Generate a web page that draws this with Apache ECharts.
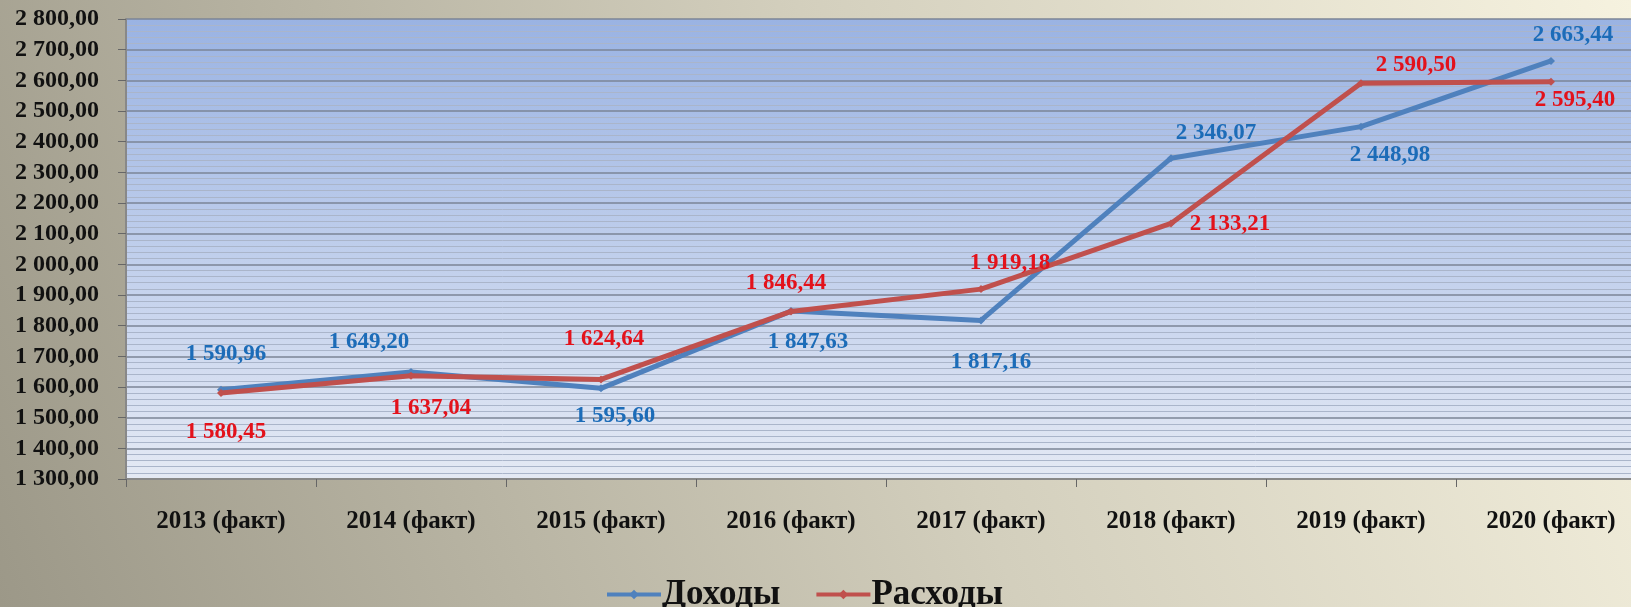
<!DOCTYPE html>
<html>
<head>
<meta charset="utf-8">
<script src="https://cdn.jsdelivr.net/npm/echarts@6/dist/echarts.min.js"></script>
<style>
  html, body { margin: 0; padding: 0; }
  #chart { width: 1631px; height: 607px; }
</style>
</head>
<body>
<div id="chart"></div>
<script>
// years on the x axis
const categories = ['2013 (факт)', '2014 (факт)', '2015 (факт)', '2016 (факт)',
                    '2017 (факт)', '2018 (факт)', '2019 (факт)', '2020 (факт)'];

// Доходы / Расходы values
const incomes  = [1590.96, 1649.20, 1595.60, 1847.63, 1817.16, 2346.07, 2448.98, 2663.44];
const expenses = [1580.45, 1637.04, 1624.64, 1846.44, 1919.18, 2133.21, 2590.50, 2595.40];

// where each value label sits relative to its point (px)
const incomeLabelShift  = [[5, -36], [-42, -30], [14, 28], [17, 31], [10, 42], [45, -25], [29, 28], [22, -26]];
const expenseLabelShift = [[5, 39], [20, 32], [3, -40], [-5, -28], [29, -26], [59, 1], [55, -18], [24, 18]];

const fmt = v => {
  const parts = v.toFixed(2).split('.');
  return parts[0].replace(/\B(?=(\d{3})+(?!\d))/g, ' ') + ',' + parts[1];
};

function withLabels(values, shifts) {
  return values.map((v, i) => ({ value: v, label: { offset: shifts[i] } }));
}

const chart = echarts.init(document.getElementById('chart'), null, { renderer: 'canvas' });

chart.setOption({
  animation: false,
  backgroundColor: new echarts.graphic.LinearGradient(0, 1, 1, 0, [
    { offset: 0, color: '#9c9888' },
    { offset: 0.55, color: '#d3cfbd' },
    { offset: 1, color: '#f6f2df' }
  ]),
  textStyle: { fontFamily: 'Liberation Serif' },
  // plot runs past the right edge of the picture, as in the original
  grid: {
    left: 126, top: 19, width: 1520, bottom: 128,
    outerBoundsMode: 'none',
    containLabel: false,
    show: true,
    borderWidth: 0,
    backgroundColor: new echarts.graphic.LinearGradient(0, 0, 0, 1, [
      { offset: 0, color: '#9ab3e3' },
      { offset: 1, color: '#e4e9f4' }
    ])
  },
  legend: {
    top: 572,
    left: 600,
    itemWidth: 54,
    itemHeight: 12,
    itemGap: 34,
    lineStyle: { width: 4 },
    textStyle: { fontSize: 35, fontWeight: 'bold', color: '#111', fontFamily: 'Liberation Serif', padding: [0, 0, 0, -4] },
    data: ['Доходы', 'Расходы']
  },
  xAxis: {
    type: 'category',
    data: categories,
    axisLine: { lineStyle: { color: '#888', width: 2 } },
    axisTick: { show: true, length: 8, lineStyle: { color: '#666' } },
    axisLabel: { margin: 30, fontSize: 25, fontWeight: 'bold', color: '#111', fontFamily: 'Liberation Serif' },
    splitLine: { show: false }
  },
  yAxis: {
    type: 'value',
    min: 1300,
    max: 2800,
    interval: 100,
    axisLine: { show: true, lineStyle: { color: '#888', width: 2 } },
    axisTick: { show: true, length: 8, lineStyle: { color: '#666' } },
    axisLabel: {
      margin: 27,
      fontSize: 24,
      fontWeight: 'bold',
      color: '#111',
      fontFamily: 'Liberation Serif',
      formatter: fmt
    },
    splitLine: { lineStyle: { color: '#7b8496', width: 1.5 } },
    minorTick: { show: false, splitNumber: 5 },
    minorSplitLine: { show: true, lineStyle: { color: '#aab5ca', width: 1 } }
  },
  series: [
    {
      name: 'Доходы',
      type: 'line',
      data: withLabels(incomes, incomeLabelShift),
      symbol: 'diamond',
      symbolSize: 8,
      lineStyle: { color: '#4f81bd', width: 5 },
      itemStyle: { color: '#4f81bd' },
      label: {
        show: true,
        position: 'inside',
        formatter: p => fmt(p.value),
        color: '#1c6cb8',
        fontSize: 23,
        fontWeight: 'bold',
        fontFamily: 'Liberation Serif'
      },
      z: 3
    },
    {
      name: 'Расходы',
      type: 'line',
      data: withLabels(expenses, expenseLabelShift),
      symbol: 'diamond',
      symbolSize: 8,
      lineStyle: { color: '#c0504d', width: 5 },
      itemStyle: { color: '#c0504d' },
      label: {
        show: true,
        position: 'inside',
        formatter: p => fmt(p.value),
        color: '#e3121b',
        fontSize: 23,
        fontWeight: 'bold',
        fontFamily: 'Liberation Serif'
      },
      z: 4
    }
  ]
});
</script>
</body>
</html>
